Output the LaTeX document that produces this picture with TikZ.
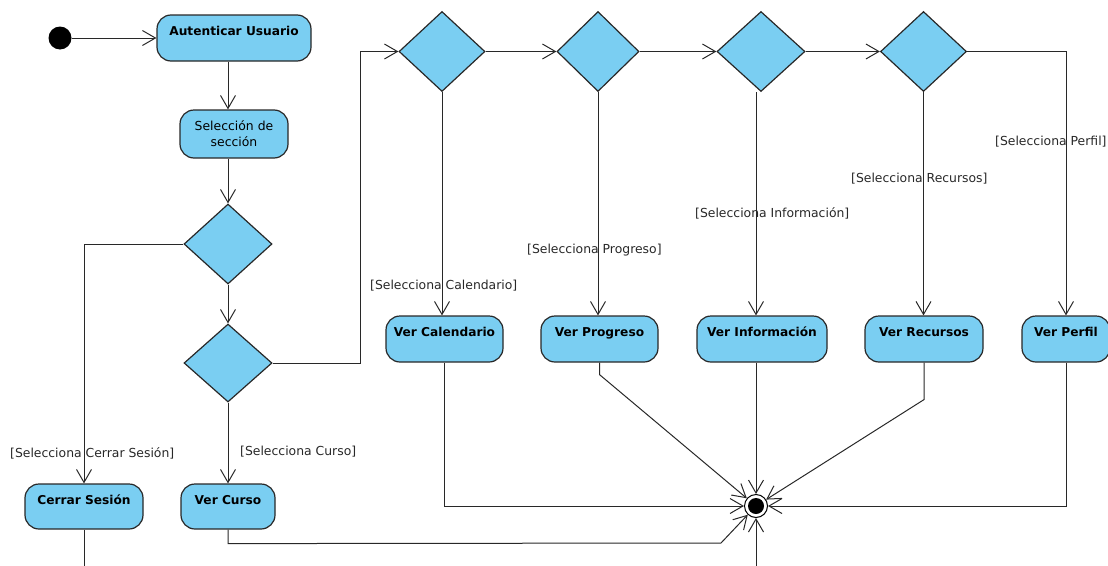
\documentclass[tikz,border=0pt]{standalone}
\usepackage{fontspec}
\setmainfont{DejaVu Sans}
\usetikzlibrary{shapes.geometric,arrows.meta}
\definecolor{actfill}{RGB}{122,206,242}
\definecolor{edgecol}{RGB}{40,40,40}
\definecolor{guardcol}{RGB}{40,40,40}

\begin{document}
\begin{tikzpicture}[x=1pt,y=-1pt,
  action/.style={rectangle, draw=edgecol, line width=1.2pt, fill=actfill,
    rounded corners=14pt, inner xsep=0pt, inner ysep=0pt,
    text height=20pt, text depth=26pt, minimum height=46pt,
    font=\fontsize{12.2}{14}\selectfont\bfseries},
  twoline/.style={rectangle, draw=edgecol, line width=1.2pt, fill=actfill,
    rounded corners=14pt, inner sep=0pt, align=center, minimum height=48pt,
    font=\fontsize{12.4}{16}\selectfont},
  decision/.style={diamond, draw=edgecol, line width=1.2pt, fill=actfill,
    inner sep=0pt, minimum width=86pt, minimum height=80pt},
  guard/.style={inner sep=0pt, anchor=mid west, text=guardcol,
    font=\fontsize{12.4}{14}\selectfont},
  flow/.style={draw=edgecol, line width=1pt,
    -{Straight Barb[length=13pt,width=15pt,line width=1pt]}},
  plain/.style={draw=edgecol, line width=1pt},
  startnode/.style={circle, fill=black, inner sep=0pt, minimum size=23pt},
  endnode/.style={circle, draw=black, line width=1pt, fill=white,
    inner sep=0pt, minimum size=23pt}
]
\useasboundingbox (0,0) rectangle (1108,565);

% start and the first two actions
\node[startnode] (ini) at (60,38) {};
\node[action, minimum width=154pt] (aut) at (234,38) {Autenticar Usuario};
\node[twoline, minimum width=108pt] (sel) at (234,134) {Selección de\\sección};

% decisions of the left column
\node[decision, minimum width=88pt] (d1) at (228,244) {};
\node[decision, minimum width=88pt, minimum height=78pt] (d2) at (228,363) {};

% actions at the bottom left
\node[action, minimum width=118pt, minimum height=45pt, text depth=25pt] (cer) at (84,506.5) {Cerrar Sesión};
\node[action, minimum width=94pt, minimum height=45pt, text depth=25pt] (cur) at (228,506.5) {Ver Curso};

% chain of decisions along the top
\node[decision] (m1) at (442,51.5) {};
\node[decision, minimum width=82pt] (m2) at (598,51.5) {};
\node[decision, minimum width=88pt] (m3) at (761,51.5) {};
\node[decision] (m4) at (923.5,51.5) {};

% row of view actions
\node[action, minimum width=117pt] (cal) at (444.5,339) {Ver Calendario};
\node[action, minimum width=117pt] (pro) at (599.5,339) {Ver Progreso};
\node[action, minimum width=130pt] (inf) at (762,339) {Ver Información};
\node[action, minimum width=118pt] (rec) at (924,339) {Ver Recursos};
\node[action, minimum width=88pt] (per) at (1066,339) {Ver Perfil};

% merge point
\node[endnode] (fin) at (756,506) {};
\fill[black] (fin.center) circle[radius=8pt];

% loose ends leaving the bottom edge
\coordinate (cerout) at (84,575);
\coordinate (finin) at (756,575);
\coordinate (curbend) at (721,543);

% connectors, upper part
\draw[flow] (ini) -- (aut.west |- ini);
\draw[flow] (aut.south -| d1) -- (sel.north -| d1);
\draw[flow] (sel.south -| d1) -- (d1.north);
\draw[flow] (d1.south) -- (d2.north);
\draw[flow] (d1.west) -| (cer.north);
\draw[flow] (d2.south) -- (cur.north);
\draw[flow] (d2.east) -- ++(88,0) |- (m1.west);
\draw[flow] (m1.east) -- (m2.west);
\draw[flow] (m2.east) -- (m3.west);
\draw[flow] (m3.east) -- (m4.west);
\draw[flow] (m4.east) -| (per.north);
\draw[flow] (m1.south) -- (m1.south |- cal.north);
\draw[flow] (m2.south) -- (m2.south |- pro.north);
\draw[flow] (m3.south -| fin) -- (fin |- inf.north);
\draw[flow] (m4.south) -- (m4.south |- rec.north);

% connectors into the merge point
\draw[flow] (cal.south) |- (fin);
\draw[flow] (pro.south) -- ++(0,12) -- (fin);
\draw[flow] (fin |- inf.south) -- (fin);
\draw[flow] (rec.south) -- ++(0,37) -- (fin);
\draw[flow] (per.south) |- (fin);
\draw[flow] (cur.south) -- ++(0,14) -- (curbend) -- (fin);
\draw[flow] (finin) -- (fin);
\draw[plain] (cer.south) -- (cerout);

% guard labels
\node[guard] (g1) at (10,455) {[Selecciona Cerrar Sesión]};
\node[guard] (g2) at (240,453) {[Selecciona Curso]};
\node[guard] (g3) at (370,287) {[Selecciona Calendario]};
\node[guard] (g4) at (527,251) {[Selecciona Progreso]};
\node[guard] (g5) at (695,215) {[Selecciona Información]};
\node[guard] (g6) at (851,179.5) {[Selecciona Recursos]};
\node[guard] (g7) at (995,143) {[Selecciona Perfil]};
\end{tikzpicture}
\end{document}
